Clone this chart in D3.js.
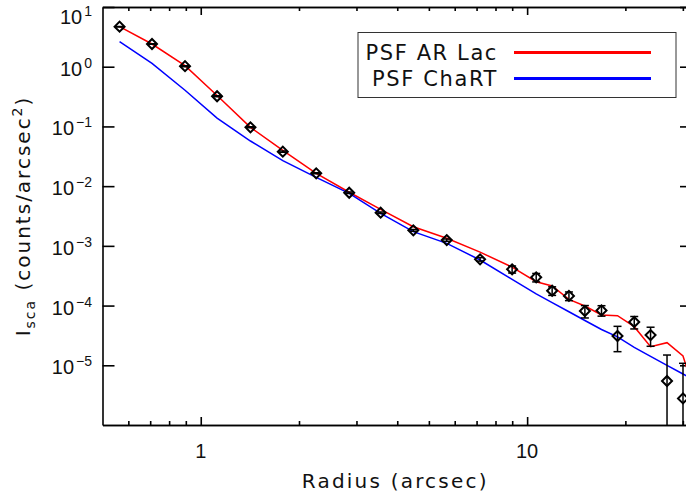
<!DOCTYPE html>
<html>
  <head>
    <meta charset="utf-8" />
    <title>PSF AR Lac vs ChaRT</title>
    <style>
      body { margin: 0; background: #fff; }
      svg { display: block; }
    </style>
  </head>
  <body>
    <div id="plot"></div>

    <script src="https://d3js.org/d3.v7.min.js"></script>
    <script>
      // values
      const radius = [0.564, 0.709, 0.895, 1.122, 1.42, 1.784, 2.258, 2.85, 3.558, 4.48, 5.672,
        7.175, 8.995, 10.66, 11.93, 13.43, 15.03, 16.9, 18.92, 21.29, 23.89, 26.83, 30.03];
      const intensity = [4.68, 2.40, 1.02, 0.32, 0.0966, 0.0378, 0.0164, 0.00776, 3.59e-3, 1.82e-3, 1.25e-3,
        5.95e-4, 4.05e-4, 2.97e-4, 1.77e-4, 1.45e-4, 8.1e-5, 8.3e-5, 3.09e-5, 5.31e-5, 3.21e-5, 5.45e-6, 2.79e-6];
      const intensityErr = [0.05, 0.03, 0.02, 0.006, 0.002, 0.0008, 0.0003, 0.0002, 1e-4, 6e-5, 5e-5,
        4e-5, 5.5e-5, 4.8e-5, 2.9e-5, 2.4e-5, 1.9e-5, 1.65e-5, 1.4e-5, 1.25e-5, 1.13e-5, 9.4e-6, 8e-6];

      const modelRadius = [0.564, 0.709, 0.895, 1.122, 1.42, 1.784, 2.258, 2.85, 3.558, 4.48, 5.672,
        7.175, 8.995, 10.66, 11.93, 13.43, 15.03, 16.9, 18.92, 21.29, 23.89, 26.83, 30.03, 33.7];
      const psfArLac = [4.68, 2.40, 1.04, 0.33, 0.0966, 0.0397, 0.0164, 0.0079, 4.09e-3, 2.09e-3, 1.34e-3,
        7.85e-4, 4.4e-4, 2.51e-4, 2.13e-4, 1.27e-4, 9.82e-5, 6.95e-5, 6.76e-5, 4.43e-5, 2.05e-5, 2.39e-5, 1.43e-5, 2e-6];
      const psfChart = [2.62, 1.14, 0.403, 0.138, 0.057, 0.0267, 0.01406, 0.00759, 3.51e-3, 1.73e-3, 1.10e-3,
        5.8e-4, 2.75e-4, 1.57e-4, 1.12e-4, 7.88e-5, 5.62e-5, 3.97e-5, 3.0e-5, 1.99e-5, 1.41e-5, 1.0e-5, 7.14e-6, 5.0e-6];

      const seriesNames = ["PSF AR Lac", "PSF ChaRT"];
      const seriesColors = ["#ff0000", "#0000ff"];

      const xMajorTicks = [1, 10];
      const xMinorTicks = [0.6, 0.7, 0.8, 0.9, 2, 3, 4, 5, 6, 7, 8, 9, 20, 30];
      const yExponents = [-5, -4, -3, -2, -1, 0, 1];

      const width = 686, height = 499;
      const plot = { left: 102.5, right: 692, top: 7, bottom: 425 };
      const textFont = "'DejaVu Sans', sans-serif";
      const numFont = "'Liberation Sans', Arial, sans-serif";

      const svg = d3.select("#plot").append("svg")
        .attr("width", width)
        .attr("height", height);

      svg.append("rect").attr("width", width).attr("height", height).attr("fill", "#fff");

      const x = d3.scaleLog().domain([0.5, 32]).range([plot.left, plot.right]);
      const y = d3.scaleLog().domain([1e-6, 10]).range([plot.bottom, plot.top]);

      svg.append("clipPath").attr("id", "clip")
        .append("rect")
        .attr("x", plot.left).attr("y", plot.top)
        .attr("width", plot.right - plot.left)
        .attr("height", plot.bottom - plot.top);

      // axes, ticks pointing inward like IDL
      function frameAxis(axis, tx, ty) {
        const g = svg.append("g")
          .attr("transform", `translate(${tx},${ty})`)
          .call(axis);
        g.selectAll("text").remove();
        g.selectAll("path, line").attr("stroke", "#000").attr("stroke-width", 1.6);
        return g;
      }
      const yMajor = yExponents.map((e) => Math.pow(10, e));

      frameAxis(d3.axisBottom(x).tickValues(xMajorTicks).tickSizeInner(-8).tickSizeOuter(0), 0, plot.bottom);
      frameAxis(d3.axisBottom(x).tickValues(xMinorTicks).tickSizeInner(-4).tickSizeOuter(0), 0, plot.bottom);
      frameAxis(d3.axisTop(x).tickValues(xMajorTicks).tickSizeInner(-8).tickSizeOuter(0), 0, plot.top);
      frameAxis(d3.axisTop(x).tickValues(xMinorTicks).tickSizeInner(-4).tickSizeOuter(0), 0, plot.top);
      frameAxis(d3.axisLeft(y).tickValues(yMajor).tickSizeInner(-12).tickSizeOuter(0), plot.left, 0);
      frameAxis(d3.axisRight(y).tickValues(yMajor).tickSizeInner(-12).tickSizeOuter(0), plot.right, 0);

      // tick labels
      svg.append("g").selectAll("text")
        .data(xMajorTicks)
        .join("text")
        .attr("x", (d) => x(d))
        .attr("y", plot.bottom + 33)
        .attr("text-anchor", "middle")
        .attr("font-family", numFont)
        .attr("font-size", 20)
        .attr("fill", "#111")
        .text((d) => d);

      // labels are kept inside the window, so the top one sits a bit lower
      const yLabels = svg.append("g").selectAll("text")
        .data(yExponents)
        .join("text")
        .attr("x", 92)
        .attr("y", (d) => Math.max(y(Math.pow(10, d)) + 9, 23.5))
        .attr("text-anchor", "end")
        .attr("font-family", numFont)
        .attr("font-size", 20)
        .attr("fill", "#111");
      yLabels.append("tspan").text("10");
      yLabels.append("tspan")
        .attr("dy", -8)
        .attr("dx", 2)
        .attr("font-size", 14)
        .text((d) => (d < 0 ? "\u2212" + Math.abs(d) : d));

      // axis titles
      svg.append("text")
        .attr("x", (plot.left + plot.right) / 2 - 2)
        .attr("y", 487.5)
        .attr("text-anchor", "middle")
        .attr("font-family", textFont)
        .attr("font-size", 20)
        .attr("letter-spacing", 2.2)
        .attr("fill", "#111")
        .text("Radius (arcsec)");

      const yTitle = svg.append("text")
        .attr("transform", `translate(30,${(plot.top + plot.bottom) / 2}) rotate(-90)`)
        .attr("text-anchor", "middle")
        .attr("font-family", textFont)
        .attr("font-size", 20)
        .attr("letter-spacing", 2)
        .attr("fill", "#111");
      yTitle.append("tspan").text("I");
      yTitle.append("tspan").attr("font-size", 14).attr("dy", 5).text("sca");
      yTitle.append("tspan").attr("dy", -5).text(" (counts/arcsec");
      yTitle.append("tspan").attr("font-size", 14).attr("dy", -8).text("2");
      yTitle.append("tspan").attr("dy", 8).text(")");

      // model lines
      const line = d3.line()
        .x((d) => x(d[0]))
        .y((d) => y(d[1]));
      const lines = svg.append("g").attr("clip-path", "url(#clip)");
      [psfArLac, psfChart].forEach((vals, i) => {
        lines.append("path")
          .datum(modelRadius.map((r, j) => [r, vals[j]]))
          .attr("d", line)
          .attr("fill", "none")
          .attr("stroke", seriesColors[i])
          .attr("stroke-width", 1.5);
      });

      // data points with error bars
      const points = radius.map((r, i) => ({ r, v: intensity[i], e: intensityErr[i] }));
      const marks = svg.append("g").attr("clip-path", "url(#clip)");
      const bars = marks.selectAll("g.err")
        .data(points)
        .join("g")
        .attr("class", "err")
        .attr("stroke", "#000")
        .attr("stroke-width", 1.5);
      const lowVal = (d) => Math.max(d.v - d.e, 1e-7);
      bars.append("line")
        .attr("x1", (d) => x(d.r)).attr("x2", (d) => x(d.r))
        .attr("y1", (d) => y(d.v + d.e))
        .attr("y2", (d) => y(lowVal(d)));
      bars.append("line")
        .attr("x1", (d) => x(d.r) - 4).attr("x2", (d) => x(d.r) + 4)
        .attr("y1", (d) => y(d.v + d.e)).attr("y2", (d) => y(d.v + d.e));
      bars.filter((d) => d.v - d.e > 1e-6).append("line")
        .attr("x1", (d) => x(d.r) - 4).attr("x2", (d) => x(d.r) + 4)
        .attr("y1", (d) => y(d.v - d.e)).attr("y2", (d) => y(d.v - d.e));

      marks.selectAll("path.pt")
        .data(points)
        .join("path")
        .attr("class", "pt")
        .attr("d", d3.symbol(d3.symbolSquare, 50))
        .attr("transform", (d) => `translate(${x(d.r)},${y(d.v)}) rotate(45)`)
        .attr("fill", "none")
        .attr("stroke", "#000")
        .attr("stroke-width", 2);

      // legend
      const legend = svg.append("g");
      legend.append("rect")
        .attr("x", 358).attr("y", 32.5)
        .attr("width", 318).attr("height", 65)
        .attr("fill", "#fff")
        .attr("stroke", "#333")
        .attr("stroke-width", 1);
      seriesNames.forEach((name, i) => {
        const ly = 52.5 + i * 26;
        legend.append("text")
          .attr("x", 498)
          .attr("y", ly + 7)
          .attr("text-anchor", "end")
          .attr("font-family", textFont)
          .attr("font-size", 21)
          .attr("letter-spacing", 1.6)
          .attr("fill", "#111")
          .text(name);
        legend.append("line")
          .attr("x1", 514).attr("x2", 651)
          .attr("y1", ly).attr("y2", ly)
          .attr("stroke", seriesColors[i])
          .attr("stroke-width", 3);
      });
    </script>
  </body>
</html>
